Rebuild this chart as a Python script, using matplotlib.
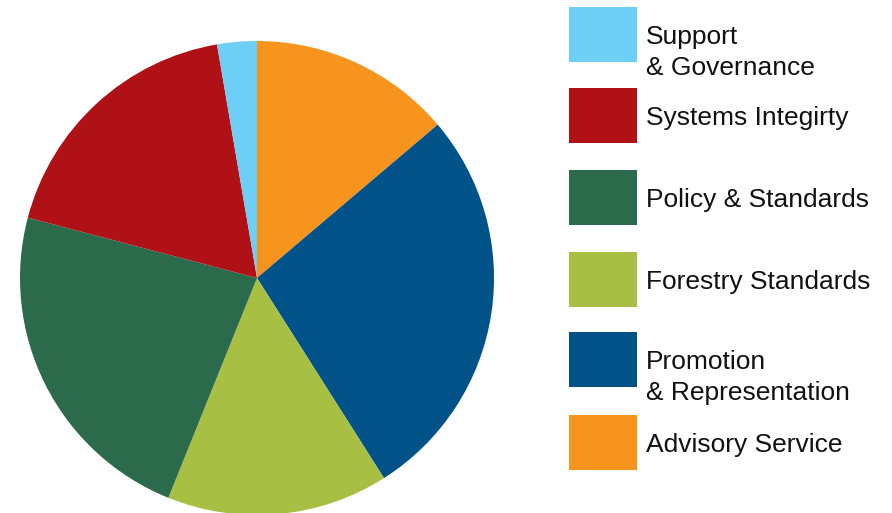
import matplotlib.pyplot as plt
from matplotlib.patches import Rectangle

# slices, clockwise from 12 o'clock
labels = ['Advisory Service', 'Promotion\n& Representation', 'Forestry Standards',
          'Policy & Standards', 'Systems Integirty', 'Support\n& Governance']
shares = [13.8, 27.2, 15.1, 23.0, 18.2, 2.7]
colors = ['#F7941E', '#005288', '#A7C044', '#2C6A4C', '#AF1117', '#6DCFF6']

# legend order (top to bottom) and patch tops in pixels
legend_order = [5, 4, 3, 2, 1, 0]
legend_tops = [7, 88, 170, 252, 332, 415]

W, H = 892, 513
fig = plt.figure(figsize=(W / 100, H / 100), dpi=100)
plt.rcParams['font.family'] = ['Liberation Sans', 'DejaVu Sans']

# pie: centre (257, 278), radius 237 px
cx, cy, r = 257, 278, 237
ax = fig.add_axes([(cx - r) / W, (H - cy - r) / H, 2 * r / W, 2 * r / H])
ax.pie(shares, colors=colors, startangle=90, counterclock=False,
       wedgeprops=dict(linewidth=0))
ax.set_xlim(-1, 1)
ax.set_ylim(-1, 1)
ax.set_aspect('equal')
ax.axis('off')

# legend drawn in pixel coordinates
lg = fig.add_axes([0, 0, 1, 1])
lg.set_xlim(0, W)
lg.set_ylim(H, 0)
lg.axis('off')
lg.patch.set_alpha(0)

fs = 19
cap = 18.8
for idx, top in zip(legend_order, legend_tops):
    lg.add_patch(Rectangle((569, top), 68, 55, facecolor=colors[idx], edgecolor='none'))
    mid = top + 27.5
    for k, line in enumerate(labels[idx].split('\n')):
        lg.text(646, mid + cap / 2 + k * 31, line, fontsize=fs,
                va='baseline', ha='left', color='#111111')

fig.savefig('out.png', dpi=100)
